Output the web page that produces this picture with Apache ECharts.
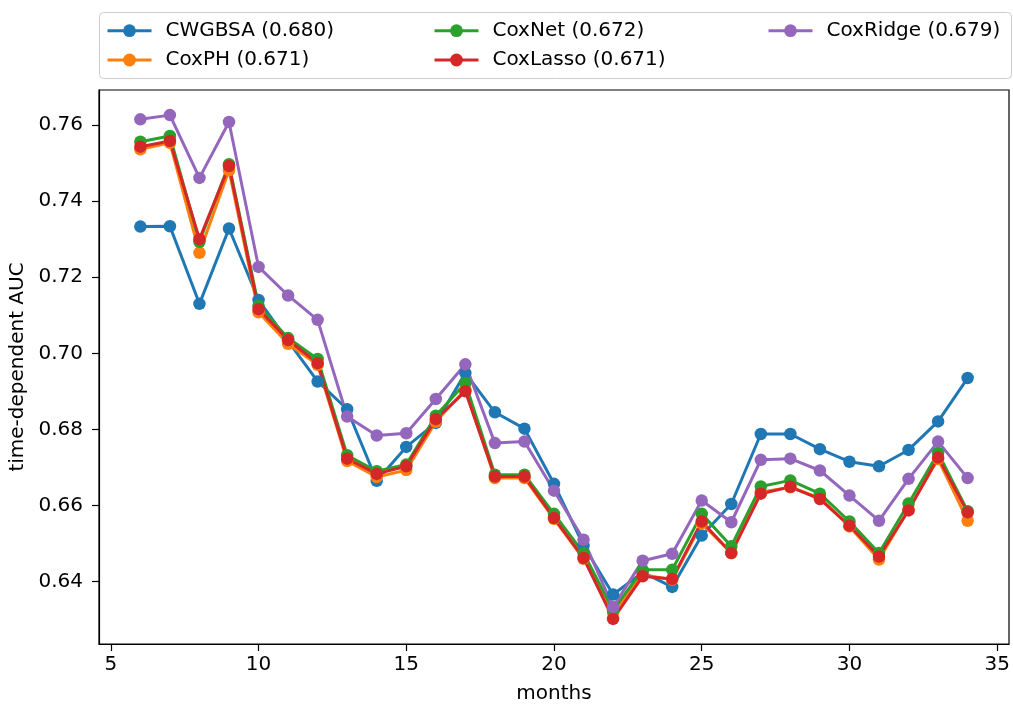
<!DOCTYPE html>
<html>
<head>
<meta charset="utf-8">
<script src="https://cdn.jsdelivr.net/npm/echarts@6/dist/echarts.min.js"></script>
<style>
  html, body { margin: 0; padding: 0; background: #fff; }
  #chart { width: 1013px; height: 705px; }
</style>
</head>
<body>
<div id="chart"></div>
<script>
// Evaluation months
const months = [6, 7, 8, 9, 10, 11, 12, 13, 14, 15, 16, 17, 18, 19, 20,
                21, 22, 23, 24, 25, 26, 27, 28, 29, 30, 31, 32, 33, 34];

// Time-dependent AUC per model
const cwgbsa = [0.7333, 0.7334, 0.7130, 0.7328, 0.7140, 0.7032, 0.6926, 0.6853, 0.6665, 0.6754,
                0.6817, 0.6948, 0.6845, 0.6802, 0.6657, 0.6495, 0.6366, 0.6424, 0.6386, 0.6521,
                0.6604, 0.6788, 0.6788, 0.6748, 0.6715, 0.6703, 0.6746, 0.6821, 0.6935];
const coxph = [0.7536, 0.7553, 0.7264, 0.7481, 0.7108, 0.7025, 0.6970, 0.6717, 0.6675, 0.6693,
               0.6820, 0.6905, 0.6672, 0.6672, 0.6565, 0.6460, 0.6318, 0.6418, 0.6405, 0.6553,
               0.6475, 0.6635, 0.6648, 0.6620, 0.6545, 0.6458, 0.6590, 0.6722, 0.6560];
const coxnet = [0.7556, 0.7571, 0.7293, 0.7497, 0.7125, 0.7040, 0.6985, 0.6732, 0.6690, 0.6708,
                0.6836, 0.6922, 0.6681, 0.6681, 0.6578, 0.6475, 0.6325, 0.6431, 0.6431, 0.6578,
                0.6493, 0.6650, 0.6666, 0.6631, 0.6558, 0.6475, 0.6605, 0.6738, 0.6585];
const coxlasso = [0.7543, 0.7558, 0.7300, 0.7492, 0.7116, 0.7035, 0.6974, 0.6723, 0.6683, 0.6703,
                  0.6827, 0.6900, 0.6676, 0.6676, 0.6567, 0.6462, 0.6302, 0.6414, 0.6407, 0.6558,
                  0.6475, 0.6631, 0.6649, 0.6617, 0.6547, 0.6466, 0.6587, 0.6726, 0.6582];
const coxridge = [0.7615, 0.7626, 0.7461, 0.7608, 0.7227, 0.7152, 0.7088, 0.6834, 0.6784, 0.6790,
                  0.6880, 0.6971, 0.6764, 0.6768, 0.6639, 0.6510, 0.6333, 0.6455, 0.6473, 0.6613,
                  0.6556, 0.6720, 0.6723, 0.6692, 0.6626, 0.6560, 0.6670, 0.6768, 0.6672];

// Legend names (integrated AUC in brackets)
const seriesNames = ['CWGBSA (0.680)', 'CoxPH (0.671)', 'CoxNet (0.672)', 'CoxLasso (0.671)', 'CoxRidge (0.679)'];
const seriesValues = [cwgbsa, coxph, coxnet, coxlasso, coxridge];

// Tick labels
const xTicks = [5, 10, 15, 20, 25, 30, 35];
const yTicks = [0.64, 0.66, 0.68, 0.70, 0.72, 0.74, 0.76];

const colors = ['#1f77b4', '#ff7f0e', '#2ca02c', '#d62728', '#9467bd'];
const FONT = 'DejaVu Sans';

const series = seriesNames.map((name, i) => ({
  name: name,
  type: 'line',
  data: months.map((m, j) => [m, seriesValues[i][j]]),
  symbol: 'circle',
  symbolSize: 12.5,
  showSymbol: true,
  color: colors[i],
  lineStyle: { width: 3, color: colors[i] },
  itemStyle: { color: colors[i] },
  emphasis: { disabled: true }
}));

// Legend laid out in three columns (column-major)
const legendSlots = [
  { left: 106, top: 18.7 }, { left: 106, top: 48 },
  { left: 433, top: 18.7 }, { left: 433, top: 48 },
  { left: 767, top: 18.7 }
];
const legends = seriesNames.map((name, i) => ({
  data: [name],
  left: legendSlots[i].left,
  top: legendSlots[i].top,
  padding: 0,
  itemWidth: 44,
  itemHeight: 16,
  selectedMode: false,
  lineStyle: { width: 3 },
  textStyle: {
    fontFamily: FONT, fontSize: 20, color: '#000', lineHeight: 24,
    padding: [0, 0, 0, 9]
  }
}));

const chart = echarts.init(document.getElementById('chart'), null, { renderer: 'canvas' });
chart.setOption({
  animation: false,
  backgroundColor: '#fff',
  textStyle: { fontFamily: FONT },
  legend: legends,
  graphic: [{
    type: 'rect',
    z: 1,
    shape: { x: 99.5, y: 12.5, width: 912, height: 66, r: 4 },
    style: { fill: '#fff', stroke: '#cccccc', lineWidth: 1 }
  }],
  grid: {
    left: 99, top: 90, right: 4, bottom: 61,
    outerBoundsMode: 'none',
    containLabel: false,
    show: true, borderColor: '#000', borderWidth: 1.2, backgroundColor: 'transparent'
  },
  xAxis: {
    type: 'value',
    min: 4.6, max: 35.4,
    name: 'months',
    nameLocation: 'middle',
    nameGap: 40,
    nameTextStyle: { fontFamily: FONT, fontSize: 20, color: '#000' },
    splitLine: { show: false },
    axisLine: { show: true, lineStyle: { color: '#000', width: 1.2 } },
    axisTick: { show: true, length: 7, lineStyle: { color: '#000', width: 1.2 }, customValues: xTicks },
    axisLabel: { fontFamily: FONT, fontSize: 20, color: '#000', margin: 11, customValues: xTicks,
                 formatter: v => String(v) }
  },
  yAxis: {
    type: 'value',
    min: 0.6236, max: 0.7692,
    name: 'time-dependent AUC',
    nameLocation: 'middle',
    nameGap: 67,
    nameTextStyle: { fontFamily: FONT, fontSize: 20, color: '#000' },
    splitLine: { show: false },
    axisLine: { show: true, lineStyle: { color: '#000', width: 1.2 } },
    axisTick: { show: true, length: 7, lineStyle: { color: '#000', width: 1.2 }, customValues: yTicks },
    axisLabel: { fontFamily: FONT, fontSize: 20, color: '#000', margin: 16, customValues: yTicks,
                 formatter: v => v.toFixed(2) }
  },
  series: series
});
</script>
</body>
</html>
